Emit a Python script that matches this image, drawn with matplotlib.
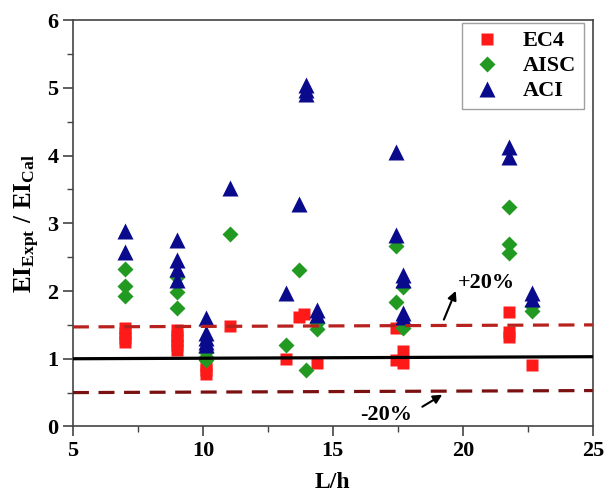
import matplotlib
matplotlib.use('Agg')
import matplotlib.pyplot as plt
from matplotlib.ticker import MultipleLocator

plt.rcParams['font.family'] = 'Liberation Serif'
plt.rcParams['font.weight'] = 'bold'
plt.rcParams['mathtext.fontset'] = 'custom'
plt.rcParams['mathtext.rm'] = 'Liberation Serif:bold'
plt.rcParams['mathtext.bf'] = 'Liberation Serif:bold'
plt.rcParams['mathtext.it'] = 'Liberation Serif:bold'

# L/h ratio and EI_Expt / EI_Cal for each design code
ec4_x = [7, 7, 7, 7, 9, 9, 9, 9, 9, 10.1, 10.1, 10.1, 11.05, 13.2, 13.7, 13.9,
         14.4, 17.42, 17.42, 17.7, 17.7, 21.78, 21.78, 21.78, 22.68]
ec4_y = [1.45, 1.38, 1.31, 1.25, 1.42, 1.34, 1.27, 1.2, 1.13, 0.91, 0.84, 0.77,
         1.49, 0.99, 1.62, 1.66, 0.93, 1.45, 0.98, 1.12, 0.93, 1.69, 1.40, 1.32, 0.91]

aisc_x = [7, 7, 7, 9, 9, 9, 10.1, 10.1, 10.1, 11.05, 13.2, 13.7, 13.95, 14.4, 14.4,
          17.42, 17.42, 17.7, 17.7, 21.78, 21.78, 21.78, 22.68, 22.68]
aisc_y = [2.33, 2.07, 1.92, 2.21, 1.99, 1.75, 1.1, 1.03, 0.98, 2.84, 1.2, 2.31, 0.83,
          1.53, 1.44, 2.66, 1.84, 2.06, 1.45, 3.24, 2.69, 2.56, 1.78, 1.70]

aci_x = [7, 7, 9, 9, 9, 9, 10.1, 10.1, 10.1, 10.1, 10.1, 11.05, 13.2, 13.7,
         13.95, 13.95, 13.95, 14.4, 14.4, 17.42, 17.42, 17.7, 17.7, 17.7, 17.7,
         21.78, 21.78, 22.68, 22.68]
aci_y = [2.88, 2.58, 2.76, 2.46, 2.32, 2.17, 1.6, 1.38, 1.31, 1.25, 1.2, 3.52, 1.97,
         3.28, 5.04, 4.97, 4.91, 1.72, 1.64, 4.06, 2.83, 2.24, 2.16, 1.68, 1.62,
         4.13, 3.98, 1.97, 1.88]

# reference lines (left end, right end)
line_x = [5, 25]
mean_y = [1.0, 1.03]
upper_y = [1.47, 1.5]
lower_y = [0.5, 0.53]

fig = plt.figure(figsize=(6.13, 4.93), dpi=100)
ax = fig.add_axes([0.119, 0.135, 0.848, 0.824])

ax.plot(ec4_x, ec4_y, 's', color='#ff1a1a', ms=8.5, mec='none', label='EC4', zorder=2)
ax.plot(aisc_x, aisc_y, 'D', color='#229a22', ms=8, mec='none', label='AISC', zorder=2)
ax.plot(aci_x, aci_y, '^', color='#0a0a8c', ms=11, mec='none', label='ACI', zorder=2)

ax.plot(line_x, mean_y, '-', color='black', lw=2.3, zorder=3)
ax.plot(line_x, upper_y, '--', color='#b8221e', lw=2.3, dashes=(5, 3), zorder=3)
ax.plot(line_x, lower_y, '--', color='#7a1010', lw=2.3, dashes=(5, 3), zorder=3)

ax.annotate('', xy=(19.77, 2.04), xytext=(19.23, 1.54),
            arrowprops=dict(arrowstyle='-|>', color='black', lw=1.5, mutation_scale=13))
ax.text(20.9, 2.12, '+20%', fontsize=16, fontweight='bold', ha='center', va='center')
ax.annotate('', xy=(19.3, 0.49), xytext=(18.35, 0.27),
            arrowprops=dict(arrowstyle='-|>', color='black', lw=1.5, mutation_scale=13))
ax.text(17.05, 0.17, '-20%', fontsize=16, fontweight='bold', ha='center', va='center')

ax.set_xlim(5, 25)
ax.set_ylim(0, 6)
ax.xaxis.set_major_locator(MultipleLocator(5))
ax.xaxis.set_minor_locator(MultipleLocator(2.5))
ax.yaxis.set_major_locator(MultipleLocator(1))
ax.yaxis.set_minor_locator(MultipleLocator(0.5))
ax.tick_params(which='major', direction='out', length=7, width=1.2, color='#444444', labelsize=16)
ax.tick_params(which='minor', direction='out', length=4, width=1.0, color='#444444')
for s in ax.spines.values():
    s.set_color('#444444')
    s.set_linewidth(1.2)

ax.set_xlabel('L/h', fontsize=17, fontweight='bold', labelpad=8)
ax.set_ylabel(r'$\mathrm{EI_{Expt}\ /\ EI_{Cal}}$', fontsize=18, labelpad=4)

leg = ax.legend(loc='upper right', bbox_to_anchor=(0.983, 0.993), borderaxespad=0,
                fontsize=16, frameon=True, fancybox=False, edgecolor='#888888',
                handletextpad=0.8, borderpad=0.35, labelspacing=0.2, handlelength=1.6)
leg.get_frame().set_linewidth(1.0)

fig.savefig('out.png', dpi=100)
